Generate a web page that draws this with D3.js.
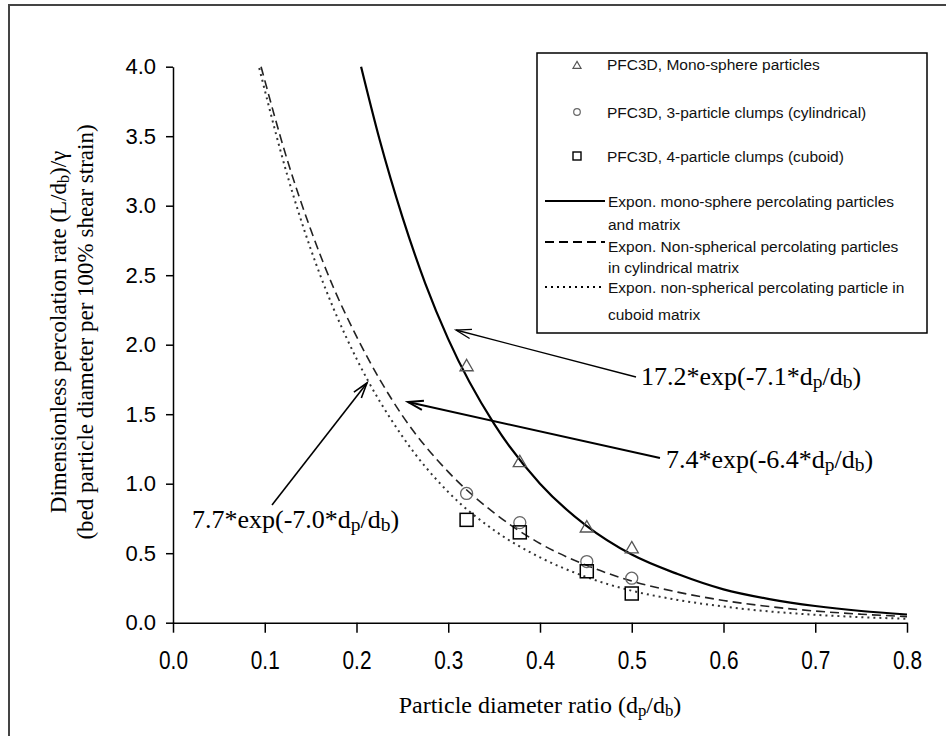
<!DOCTYPE html>
<html>
<head>
<meta charset="utf-8">
<script src="https://cdn.jsdelivr.net/npm/d3@7"></script>
<style>
  body { margin: 0; background: #fff; }
  .tick line, .domain { stroke: #000; stroke-width: 1.5; }
  .sans { font-family: "Liberation Sans", Arial, sans-serif; }
  .serif { font-family: "Liberation Serif", "Times New Roman", serif; }
</style>
</head>
<body>
<div class="chart"></div>
<script>
// Simulation points (PFC3D)
var diamRatio = [0.32, 0.378, 0.451, 0.50];
var monoRate = [1.84, 1.15, 0.68, 0.53];
var cylRate = [0.93, 0.72, 0.44, 0.32];
var cubRate = [0.74, 0.65, 0.37, 0.21];

// Trend lines
var monoFitX = [0.205, 0.225, 0.25, 0.275, 0.30, 0.35, 0.40, 0.45, 0.50, 0.55, 0.60, 0.65, 0.70, 0.75, 0.80];
var monoFitY = [4.00, 3.48, 2.92, 2.44, 2.04, 1.43, 1.00, 0.70, 0.49, 0.35, 0.24, 0.17, 0.12, 0.084, 0.059];
var cylFitX = [0.096, 0.125, 0.15, 0.175, 0.20, 0.25, 0.30, 0.35, 0.40, 0.45, 0.50, 0.55, 0.60, 0.65, 0.70, 0.75, 0.80];
var cylFitY = [4.00, 3.32, 2.83, 2.41, 2.06, 1.49, 1.085, 0.79, 0.57, 0.415, 0.30, 0.22, 0.16, 0.116, 0.084, 0.061, 0.044];
var cubFitX = [0.094, 0.125, 0.15, 0.175, 0.20, 0.25, 0.30, 0.35, 0.40, 0.45, 0.50, 0.55, 0.60, 0.65, 0.70, 0.75, 0.80];
var cubFitY = [3.99, 3.21, 2.69, 2.26, 1.90, 1.34, 0.94, 0.665, 0.47, 0.33, 0.23, 0.164, 0.116, 0.081, 0.057, 0.040, 0.028];

var xTicks = [0, 0.1, 0.2, 0.3, 0.4, 0.5, 0.6, 0.7, 0.8];
var yTicks = [0, 0.5, 1, 1.5, 2, 2.5, 3, 3.5, 4];

var legendLabels = [
  ["PFC3D, Mono-sphere particles"],
  ["PFC3D, 3-particle clumps (cylindrical)"],
  ["PFC3D, 4-particle clumps (cuboid)"],
  ["Expon. mono-sphere percolating particles", "and matrix"],
  ["Expon. Non-spherical percolating particles", "in cylindrical matrix"],
  ["Expon. non-spherical percolating particle in", "cuboid matrix"]
];
var fitLabels = [
  {a: "17.2", b: "-7.1"},
  {a: "7.4", b: "-6.4"},
  {a: "7.7", b: "-7.0"}
];

var svgWidth = 946;
var svgHeight = 736;
var margin = {top: 66.7, left: 173};
var width = 734;
var height = 556;

var svg = d3.select(".chart")
  .append("svg")
  .attr("width", svgWidth)
  .attr("height", svgHeight);

// outer frame (cropped at right and bottom)
svg.append("rect")
  .attr("x", 9).attr("y", 5)
  .attr("width", 980).attr("height", 780)
  .attr("fill", "none").attr("stroke", "#444").attr("stroke-width", 2);

var chartGroup = svg.append("g")
  .attr("transform", `translate(${margin.left}, ${margin.top})`);

var x = d3.scaleLinear().domain([0, 0.8]).range([0, width]);
var y = d3.scaleLinear().domain([0, 4]).range([height, 0]);

var bottomAxis = d3.axisBottom(x).tickValues(xTicks).tickFormat(d3.format(".1f"))
  .tickSize(10).tickSizeOuter(0);
var leftAxis = d3.axisLeft(y).tickValues(yTicks).tickFormat(d3.format(".1f"))
  .tickSize(7).tickSizeOuter(0);

var xg = chartGroup.append("g")
  .attr("transform", `translate(0, ${height})`)
  .call(bottomAxis);
xg.selectAll("text")
  .attr("class", "sans")
  .attr("font-size", 26)
  .attr("fill", "#000")
  .attr("y", 46).attr("dy", 0)
  .attr("transform", "scale(0.8,1)");

var yg = chartGroup.append("g").call(leftAxis);
yg.selectAll("text")
  .attr("class", "sans")
  .attr("font-size", 22)
  .attr("fill", "#000")
  .attr("x", -17);

chartGroup.selectAll(".domain").attr("stroke-width", 1.5);

// trend lines
var line = d3.line().x(d => x(d[0])).y(d => y(d[1])).curve(d3.curveMonotoneX);
var fits = [
  {xs: monoFitX, ys: monoFitY, dash: null, w: 2.2, c: "#000"},
  {xs: cylFitX, ys: cylFitY, dash: "9,5", w: 1.6, c: "#222"},
  {xs: cubFitX, ys: cubFitY, dash: "2,4", w: 2, c: "#333"}
];
fits.forEach(function(f) {
  chartGroup.append("path")
    .datum(f.xs.map((v, i) => [v, f.ys[i]]))
    .attr("d", line)
    .attr("fill", "none")
    .attr("stroke", f.c)
    .attr("stroke-width", f.w)
    .attr("stroke-dasharray", f.dash);
});

// points
chartGroup.selectAll(".tri")
  .data(diamRatio).enter()
  .append("path")
  .attr("d", d3.symbol().type(d3.symbolTriangle).size(75))
  .attr("transform", (d, i) => `translate(${x(d)}, ${y(monoRate[i])})`)
  .attr("fill", "none").attr("stroke", "#555").attr("stroke-width", 1.3);

chartGroup.selectAll(".circ")
  .data(diamRatio).enter()
  .append("circle")
  .attr("cx", d => x(d))
  .attr("cy", (d, i) => y(cylRate[i]))
  .attr("r", 6)
  .attr("fill", "none").attr("stroke", "#666").attr("stroke-width", 1.3);

chartGroup.selectAll(".sq")
  .data(diamRatio).enter()
  .append("rect")
  .attr("x", d => x(d) - 6.5)
  .attr("y", (d, i) => y(cubRate[i]) - 6.5)
  .attr("width", 13).attr("height", 13)
  .attr("fill", "none").attr("stroke", "#000").attr("stroke-width", 1.5);

// arrows with open heads
function arrow(x1, y1, x2, y2, w) {
  var g = svg.append("g").attr("stroke", "#000").attr("stroke-width", w).attr("fill", "none");
  g.append("line").attr("x1", x1).attr("y1", y1).attr("x2", x2).attr("y2", y2);
  var ang = Math.atan2(y2 - y1, x2 - x1);
  var len = 16, spread = 0.3;
  var p1 = [x2 - len * Math.cos(ang - spread), y2 - len * Math.sin(ang - spread)];
  var p2 = [x2 - len * Math.cos(ang + spread), y2 - len * Math.sin(ang + spread)];
  g.append("path").attr("d", `M${p1}L${x2},${y2}L${p2}`);
}
arrow(636, 377, 456, 330, 1.3);
arrow(660, 458, 408, 402, 2);
arrow(272, 505, 367, 383, 1.6);

function fitText(el, f) {
  el.append("tspan").text(`${f.a}*exp(${f.b}*d`);
  el.append("tspan").attr("font-size", "75%").attr("dy", 3).text("p");
  el.append("tspan").attr("dy", -3).text("/d");
  el.append("tspan").attr("font-size", "75%").attr("dy", 3).text("b");
  el.append("tspan").attr("dy", -3).text(")");
}
var fitPos = [[641, 385], [666, 468], [192, 528]];
fitLabels.forEach(function(f, i) {
  var t = svg.append("text").attr("class", "serif").attr("font-size", 26)
    .attr("x", fitPos[i][0]).attr("y", fitPos[i][1]);
  fitText(t, f);
});

// axis titles
var xt = svg.append("text").attr("class", "serif").attr("font-size", 24)
  .attr("text-anchor", "middle")
  .attr("x", margin.left + width / 2).attr("y", 713);
xt.append("tspan").text("Particle diameter ratio (d");
xt.append("tspan").attr("font-size", "70%").attr("dy", 3).text("p");
xt.append("tspan").attr("dy", -3).text("/d");
xt.append("tspan").attr("font-size", "70%").attr("dy", 3).text("b");
xt.append("tspan").attr("dy", -3).text(")");

var yt = svg.append("text").attr("class", "serif").attr("font-size", 23)
  .attr("text-anchor", "middle")
  .attr("transform", "translate(66, 332) rotate(-90)");
yt.append("tspan").text("Dimensionless percolation rate (L/d");
yt.append("tspan").attr("font-size", "70%").attr("dy", 3).text("b");
yt.append("tspan").attr("dy", -3).text(")/\u03b3");
svg.append("text").attr("class", "serif").attr("font-size", 23)
  .attr("text-anchor", "middle")
  .attr("transform", "translate(93, 332) rotate(-90)")
  .text("(bed particle diameter per 100% shear strain)");

// legend
var lg = svg.append("g").attr("transform", "translate(537, 53)");
lg.append("rect").attr("width", 390).attr("height", 280)
  .attr("fill", "#fff").attr("stroke", "#000").attr("stroke-width", 1.5);

var rowY = [13, 59, 103, 148, 189, 234];
var textY = [[17], [65], [109], [154, 177], [199, 220], [240, 267]];
lg.append("path").attr("d", d3.symbol().type(d3.symbolTriangle).size(28))
  .attr("transform", `translate(40, ${rowY[0]})`)
  .attr("fill", "none").attr("stroke", "#555").attr("stroke-width", 1.2);
lg.append("circle").attr("cx", 40).attr("cy", rowY[1]).attr("r", 3.3)
  .attr("fill", "none").attr("stroke", "#666").attr("stroke-width", 1.2);
lg.append("rect").attr("x", 36).attr("y", rowY[2] - 4).attr("width", 8).attr("height", 8)
  .attr("fill", "none").attr("stroke", "#000").attr("stroke-width", 1.4);
fits.forEach(function(f, i) {
  lg.append("line").attr("x1", 8).attr("x2", 68)
    .attr("y1", rowY[3 + i]).attr("y2", rowY[3 + i])
    .attr("stroke", "#000").attr("stroke-width", 2)
    .attr("stroke-dasharray", f.dash);
});
legendLabels.forEach(function(lines, i) {
  lines.forEach(function(s, j) {
    lg.append("text").attr("class", "sans").attr("font-size", 15.5)
      .attr("x", i < 3 ? 70 : 71).attr("y", textY[i][j]).attr("fill", "#111")
      .text(s);
  });
});
</script>
</body>
</html>
